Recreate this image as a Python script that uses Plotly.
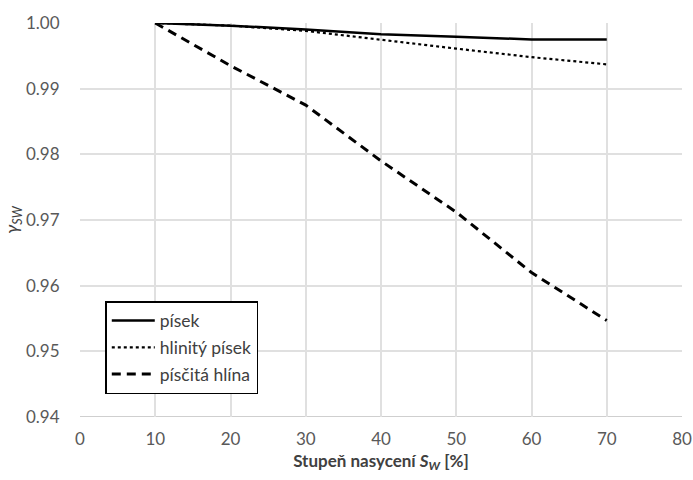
import plotly.graph_objects as go

saturation = [10, 20, 30, 40, 50, 60, 70]
pisek = [1.0, 0.9996, 0.9990, 0.9983, 0.9979, 0.9975, 0.9975]
hlinity_pisek = [1.0, 0.9996, 0.9988, 0.9974, 0.9961, 0.9948, 0.9937]
piscita_hlina = [1.0, 0.9935, 0.9875, 0.9790, 0.9712, 0.9620, 0.9547]
series_names = ["písek", "hlinitý písek", "písčitá hlína"]
x_ticks = [0, 10, 20, 30, 40, 50, 60, 70, 80]
y_ticks = [0.94, 0.95, 0.96, 0.97, 0.98, 0.99, 1.00]

FONT = "Lato, 'Open Sans', sans-serif"

fig = go.Figure()
fig.add_trace(go.Scatter(x=saturation, y=pisek, mode="lines", name=series_names[0],
                         legendgroup="a", line=dict(color="#000000", width=2.5, dash="solid")))
fig.add_trace(go.Scatter(x=saturation, y=hlinity_pisek, mode="lines", name=series_names[1],
                         legendgroup="b", line=dict(color="#000000", width=2.2, dash="dot")))
fig.add_trace(go.Scatter(x=saturation, y=piscita_hlina, mode="lines", name=series_names[2],
                         legendgroup="c", line=dict(color="#000000", width=3, dash="9px,6px")))

fig.update_layout(
    width=693, height=480,
    margin=dict(l=80, r=11, t=23, b=63),
    paper_bgcolor="white", plot_bgcolor="white",
    font=dict(family=FONT, size=17, color="#595959"),
    showlegend=True,
    legend=dict(x=0.042, y=0.294, xanchor="left", yanchor="top",
                bgcolor="white", bordercolor="#000000", borderwidth=1.5,
                font=dict(size=17.5, color="#404040"), tracegroupgap=1,
                itemwidth=43),
    xaxis=dict(range=[0, 80], tickvals=x_ticks, ticktext=[str(v) for v in x_ticks],
               showgrid=True, gridcolor="#e0e0e0", gridwidth=1.5, automargin=False,
               zeroline=False, showline=False, ticks="outside", ticklen=7, tickcolor="white",
               tickfont=dict(size=17, color="#595959"),
               title=dict(text="<b>Stupeň nasycení <i>S</i><sub><i>W</i></sub> [%]</b>",
                          font=dict(size=17, color="#404040"), standoff=6)),
    yaxis=dict(range=[0.94, 1.00], tickvals=y_ticks,
               ticktext=[f"{v:.2f}" for v in y_ticks],
               showgrid=True, gridcolor="#e0e0e0", gridwidth=1.5, automargin=False,
               zeroline=False, showline=False, ticks="outside", ticklen=16, tickcolor="white",
               tickfont=dict(size=17, color="#595959"),
               title=dict(text="<i>γ<sub>SW</sub></i>", font=dict(size=18, color="#404040"),
                          standoff=4)),
)
# bottom axis line (darker)
fig.add_shape(type="line", xref="paper", yref="y", x0=0, x1=1, y0=0.94, y1=0.94,
              line=dict(color="#bfbfbf", width=1.5), layer="below")

fig.write_html("out.html", config={"displayModeBar": False},
               post_script="document.body.style.margin='0';")
